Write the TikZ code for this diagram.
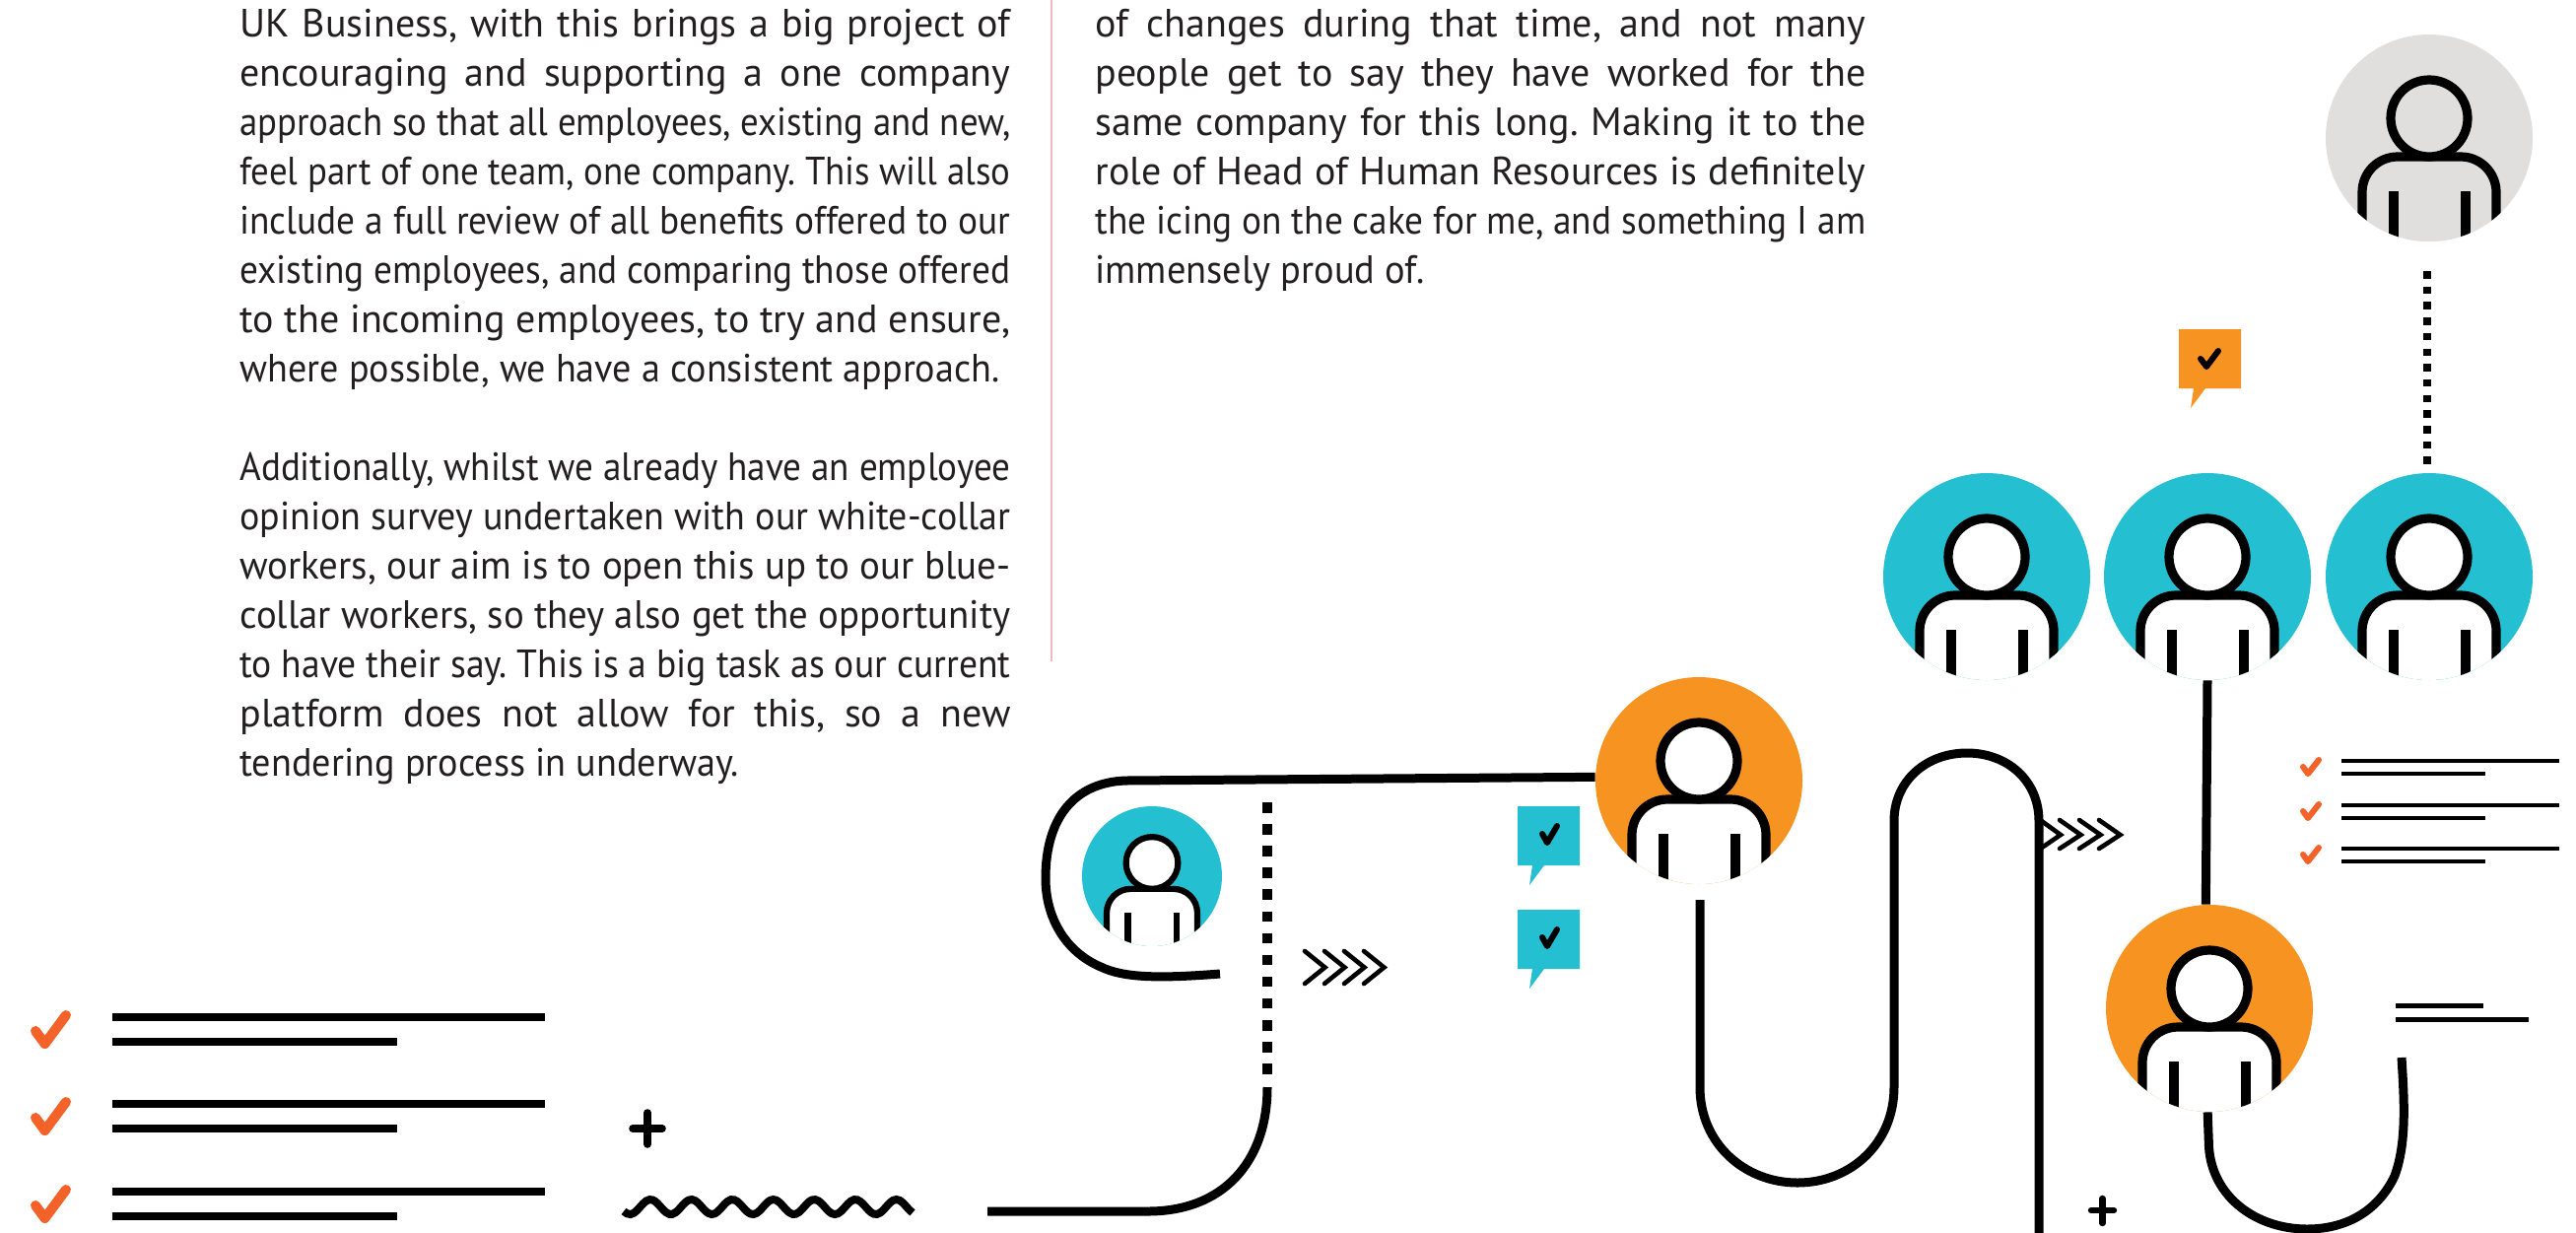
\documentclass[tikz,border=0pt]{standalone}
\usepackage{graphicx}
\usepackage{fontspec}
\setmainfont{PT Sans}
\usetikzlibrary{calc}
\definecolor{tealc}{HTML}{25BFD2}
\definecolor{orangec}{HTML}{F69321}
\definecolor{greyc}{HTML}{E1DFDE}
\definecolor{tickc}{HTML}{F26229}
\definecolor{pinkc}{HTML}{F3B9C3}
\definecolor{inkc}{HTML}{231F20}
\newsavebox\fitbox
\newlength\fitw
\newcommand\fitline[2]{\setlength\fitw{#1pt}\setlength\fitw{0.5\fitw}\sbox\fitbox{#2}%
  \ifdim\wd\fitbox>\fitw\resizebox{\fitw}{\height}{\usebox\fitbox}\else\makebox[\fitw][s]{#2}\fi}
\newcommand\tline[5]{\node[textline] (#1) at (#2,#3) {\frenchspacing\fitline{#4}{#5}};}
\newcommand\person[6]{% name,x,y,fill,scale,body fill
  \node[circle,fill=#4,draw=none,inner sep=0pt,minimum size=#5*105pt] (#1) at (#2,#3) {};
  \begin{scope}[shift={(#2,#3)},scale=#5,line width=#5*4.6pt,draw=black]
    \clip (0,0) circle (105);
    \draw[fill=#6,rounded corners=#5*18pt] (-68,130) -- (-68,19) -- (68,19) -- (68,130);
    \draw[fill=#6] (0,-20) circle (39);
    \draw[line width=#5*4.8pt] (-36,54) -- (-36,120);
    \draw[line width=#5*4.8pt] (37,54) -- (37,120);
  \end{scope}}
\newcommand\bubble[4]{% name,x,y,colour
  \fill[#4] (#2,#3) -- ++(63,0) -- ++(0,60) -- ++(-36,0) -- ++(-15,20) -- ++(3,-20) -- ++(-15,0) -- cycle;
  \coordinate (#1) at (#2,#3);}
\tikzset{
  conn/.style={line width=4.5pt,draw=black},
  textline/.style={anchor=base west,inner sep=0pt,text=inkc,font=\fontsize{20}{25}\selectfont},
  chev/.style={line width=2.3pt,line cap=round,line join=miter,draw=black},
  rulebar/.style={draw=black,line width=#1},
  tickmark/.style={draw=tickc,line width=#1,line cap=round,line join=round},
  plusmark/.style={draw=black,line width=#1,line cap=round},
}
\begin{document}
\begin{tikzpicture}[x=0.5pt,y=-0.5pt]
\useasboundingbox (0,0) rectangle (2614,1250);
\fill[white] (0,0) rectangle (2614,1250);
% column rule
\coordinate (ruleT) at (1067,0);
\coordinate (ruleB) at (1067,671);
\draw[pinkc,line width=0.8pt] (ruleT) -- (ruleB);
% left column
\tline{a1}{243}{37.5}{782}{UK Business, with this brings a big project of}
\tline{a2}{243}{87.5}{782}{encouraging and supporting a one company}
\tline{a3}{243}{137.5}{782}{approach so that all employees, existing and new,}
\tline{a4}{243}{187.5}{782}{feel part of one team, one company. This will also}
\tline{a5}{243}{237.5}{782}{include a full review of all benefits offered to our}
\tline{a6}{243}{287.5}{782}{existing employees, and comparing those offered}
\tline{a7}{243}{337.5}{782}{to the incoming employees, to try and ensure,}
\tline{a8}{243}{387.5}{771}{where possible, we have a consistent approach.}
\tline{b1}{243}{487.5}{782}{Additionally, whilst we already have an employee}
\tline{b2}{243}{537.5}{782}{opinion survey undertaken with our white-collar}
\tline{b3}{243}{587.5}{782}{workers, our aim is to open this up to our blue-}
\tline{b4}{243}{637.5}{782}{collar workers, so they also get the opportunity}
\tline{b5}{243}{687.5}{782}{to have their say. This is a big task as our current}
\tline{b6}{243}{737.5}{782}{platform does not allow for this, so a new}
\tline{b7}{243}{787.5}{506}{tendering process in underway.}
% right column
\tline{c1}{1111}{37.5}{782}{of changes during that time, and not many}
\tline{c2}{1111}{87.5}{782}{people get to say they have worked for the}
\tline{c3}{1111}{137.5}{782}{same company for this long. Making it to the}
\tline{c4}{1111}{187.5}{782}{role of Head of Human Resources is definitely}
\tline{c5}{1111}{237.5}{782}{the icing on the cake for me, and something I am}
\tline{c6}{1111}{287.5}{334}{immensely proud of.}
% free ends
\coordinate (dA1) at (2463,275);
\coordinate (dA2) at (2463,471);
\coordinate (dB1) at (1286,814);
\coordinate (dB2) at (1286,1090);
\coordinate (eA) at (1238,988);
\coordinate (eB1) at (1286,1103);
\coordinate (eB2) at (1002,1229);
\coordinate (eC1) at (1725,913);
\coordinate (eC2) at (2069,1260);
\coordinate (eD) at (2437,1073);
% people
\person{pg}{2465}{140}{greyc}{1}{greyc}
\person{pb1}{2016}{585}{tealc}{1}{white}
\person{pb2}{2240}{585}{tealc}{1}{white}
\person{pb3}{2465}{585}{tealc}{1}{white}
\person{po1}{1724}{792}{orangec}{1}{white}
\person{po2}{2242}{1023}{orangec}{1}{white}
\person{ps}{1169}{889}{tealc}{0.676}{white}
% connectors
\draw[line width=4pt,draw=black,dash pattern=on 3.75pt off 4.1pt] (dA1) -- (dA2);
\draw[line width=5pt,draw=black,dash pattern=on 5.25pt off 5.8pt] (dB1) -- (dB2);
\draw[conn] (po1.178) -- (1142,792) .. controls (1090,794) and (1061,830) .. (1061,891)
  .. controls (1061,930) and (1080,965) .. (1117,981)
  .. controls (1140,992) and (1175,993) .. (eA);
\draw[conn] (eB1) .. controls (1286,1180) and (1240,1229) .. (1165,1229) -- (eB2);
\draw[conn] (eC1) -- (1725,1103) .. controls (1725,1160) and (1770,1200) .. (1824,1200)
  .. controls (1878,1200) and (1922,1160) .. (1922,1103) -- (1922,833)
  .. controls (1922,792) and (1955,764) .. (1996,764)
  .. controls (2037,764) and (2069,792) .. (2069,833) -- (eC2);
\draw[conn] (pb2.south) -- (po2.92);
\draw[conn] (po2.269) -- (2241.5,1164) .. controls (2245,1215) and (2290,1247) .. (2341,1247)
  .. controls (2385,1247) and (2415,1225) .. (2430,1193)
  .. controls (2442,1160) and (2440,1120) .. (eD);
% chevrons
\foreach \dx in {0,20,40,60}
  \draw[chev] ({1324+\dx},965) -- ({1344.5+\dx},981.5) -- ({1324+\dx},998);
\foreach \dx in {0,20,40}
  \draw[chev] ({2090+\dx},832) -- ({2111.5+\dx},847) -- ({2090+\dx},861);
\draw[chev] (2069,831) -- (2091,847) -- (2069,862);
% bubbles
\bubble{bu1}{1540}{818}{tealc}
\bubble{bu2}{1540}{923}{tealc}
\bubble{bu3}{2211}{334}{orangec}
\draw[line width=3pt,line cap=round,line join=round] (1565,846) -- (1570,855) -- (1580,838);
\draw[line width=3pt,line cap=round,line join=round] (1565,951) -- (1570,960) -- (1580,943);
\draw[line width=3pt,line cap=round,line join=round] (2233,364) -- (2239,372) -- (2251,356);
% right list
\foreach \dy in {0,45,89} {
  \draw[tickmark=3pt] (2337,{778+\dy}) -- (2342,{785+\dy}) -- (2353,{771+\dy});
  \draw[rulebar=2pt] (2376,{772+\dy}) -- (2597,{772+\dy});
  \draw[rulebar=2pt] (2376,{785+\dy}) -- (2522,{785+\dy});
}
\draw[rulebar=2.5pt] (2431,1020) -- (2520,1020);
\draw[rulebar=2.5pt] (2431,1034.5) -- (2566,1034.5);
% left list
\foreach \dy in {0,88,177} {
  \draw[tickmark=5pt] (36,{1046+\dy}) -- (45.5,{1059+\dy}) -- (67,{1030+\dy});
  \draw[rulebar=4pt] (114,{1032+\dy}) -- (553,{1032+\dy});
  \draw[rulebar=4pt] (114,{1057+\dy}) -- (403,{1057+\dy});
}
% plus signs
\draw[plusmark=3.8pt] (657,1129) -- (657,1161);
\draw[plusmark=3.8pt] (642,1145) -- (672,1145);
\draw[plusmark=3.2pt] (2133.5,1216) -- (2133.5,1241);
\draw[plusmark=3.2pt] (2122,1228) -- (2145,1228);
% wave
\draw[line width=4pt,draw=black] plot[smooth,domain=633:926,samples=90] (\x,{1224.5-7.5*cos((\x-660)/41.6*360)});
\end{tikzpicture}
\end{document}
